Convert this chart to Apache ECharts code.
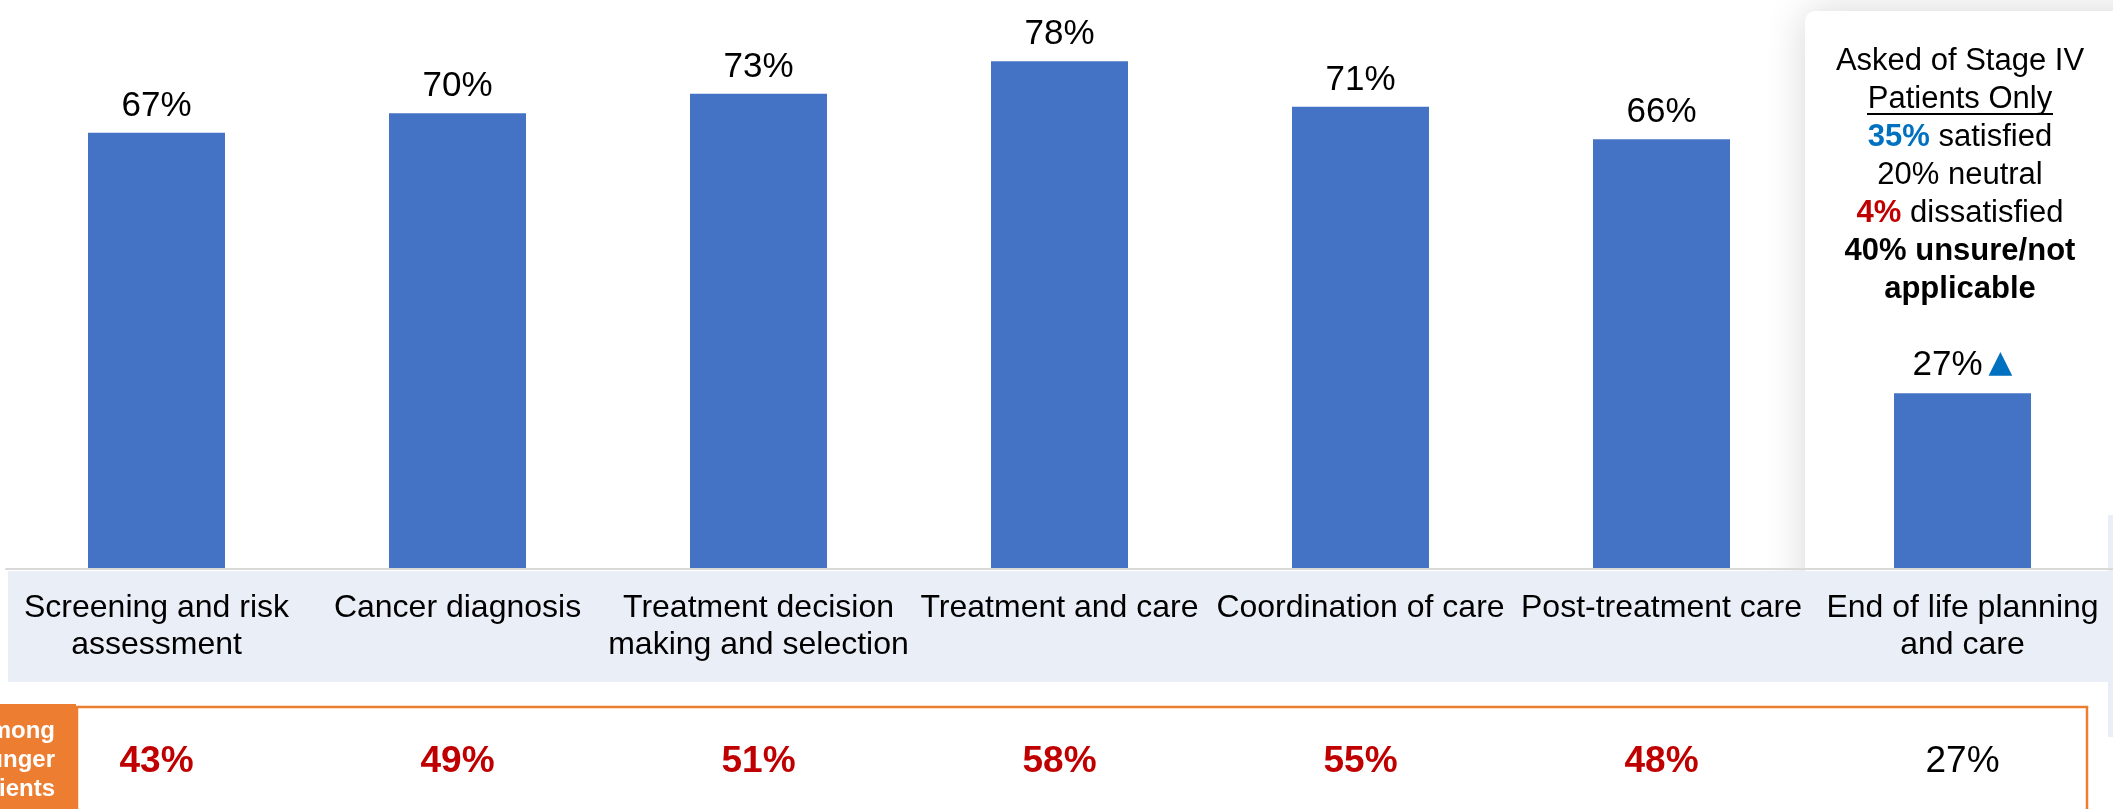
<!DOCTYPE html>
<html>
<head>
<meta charset="utf-8">
<title>Satisfaction by stage of care</title>
<script src="https://cdn.jsdelivr.net/npm/echarts@6/dist/echarts.min.js"></script>
<style>
  html, body { margin: 0; padding: 0; background: #ffffff; }
  #chart { width: 2113px; height: 809px; }
</style>
</head>
<body>
<div id="chart"></div>
<script>
// Stages of the care journey (axis categories)
const categories = [
  'Screening and risk\nassessment',
  'Cancer diagnosis',
  'Treatment decision\nmaking and selection',
  'Treatment and care',
  'Coordination of care',
  'Post-treatment care',
  'End of life planning\nand care'
];

// Share satisfied, all patients (%)
const allPatients = [67, 70, 73, 78, 71, 66, 27];

// Share satisfied, younger patients (%)
const youngerPatients = [43, 49, 51, 58, 55, 48, 27];

// Stage IV breakdown for end of life planning and care
const stageIvLines = [
  'Asked of Stage IV',
  'Patients Only',
  '{blue|35%} satisfied',
  '20% neutral',
  '{red|4%} dissatisfied',
  '{bold|40% unsure/not}',
  '{bold|applicable}'
];

const FONT = '"Liberation Sans", Arial, sans-serif';
const BLUE_BAR = '#4472C4';
const ORANGE = '#ED7D31';
const DARK_RED = '#C00000';
const ACCENT_BLUE = '#0070C0';
const BAND = '#EAEEF7';

const chart = echarts.init(document.getElementById('chart'), null, { renderer: 'canvas' });

const barData = allPatients.map((v, i) => {
  if (i === allPatients.length - 1) {
    return {
      value: v,
      label: {
        formatter: '{v|{c}%}{t|▲}',
        rich: {
          v: { fontSize: 35, fontFamily: FONT, color: '#000', lineHeight: 38 },
          t: { fontSize: 31, fontFamily: '"DejaVu Sans", sans-serif', color: ACCENT_BLUE, padding: [0, 0, 2, 6], lineHeight: 38 }
        }
      }
    };
  }
  return v;
});

const option = {
  backgroundColor: '#ffffff',
  animation: false,
  grid: { left: 6, width: 2118, top: 0, height: 569, containLabel: false },
  xAxis: [
    {
      type: 'category',
      data: categories,
      z: 10,
      axisLine: { show: true, lineStyle: { color: '#D9D9D9', width: 2 } },
      axisTick: { show: false },
      axisLabel: {
        interval: 0,
        margin: 21,
        color: '#000',
        fontSize: 32,
        lineHeight: 37,
        fontFamily: FONT
      }
    },
    {
      type: 'category',
      data: youngerPatients,
      position: 'bottom',
      z: 10,
      axisLine: { show: false },
      axisTick: { show: false },
      axisLabel: {
        interval: 0,
        margin: 174,
        formatter: (value, index) =>
          index === youngerPatients.length - 1 ? '{plain|' + value + '%}' : '{hi|' + value + '%}',
        rich: {
          hi: { fontSize: 37, fontWeight: 'bold', color: DARK_RED, fontFamily: FONT, lineHeight: 37 },
          plain: { fontSize: 37, color: '#000', fontFamily: FONT, lineHeight: 37 }
        }
      }
    }
  ],
  // 0 sits on the axis line; the plot area spans 87.4 points of the percentage scale
  yAxis: { type: 'value', min: 0, max: 87.4, show: false },
  series: [
    {
      type: 'bar',
      xAxisIndex: 0,
      z: 5,
      data: barData,
      barWidth: 137,
      itemStyle: { color: BLUE_BAR },
      label: {
        show: true,
        position: 'top',
        distance: 9,
        formatter: '{c}%',
        color: '#000',
        fontSize: 35,
        fontFamily: FONT
      }
    }
  ],
  graphic: [
    // white card behind the end-of-life column
    {
      type: 'rect', z: 0,
      shape: { x: 1805, y: 11, width: 360, height: 600, r: 10 },
      style: { fill: '#ffffff', shadowBlur: 40, shadowColor: 'rgba(0,0,0,0.16)' }
    },
    // category label band
    {
      type: 'rect', z: 1,
      shape: { x: 8, y: 571, width: 2100, height: 111 },
      style: { fill: BAND }
    },
    {
      type: 'rect', z: 1,
      shape: { x: 2108, y: 515, width: 10, height: 222 },
      style: { fill: BAND }
    },
    // card text
    {
      type: 'text', z: 6,
      style: {
        text: stageIvLines.join('\n'),
        x: 1960, y: 42,
        align: 'center', verticalAlign: 'top',
        fontSize: 31, fontFamily: FONT, fill: '#000', lineHeight: 38,
        rich: {
          blue: { fontSize: 31, fontFamily: FONT, fontWeight: 'bold', fill: ACCENT_BLUE, lineHeight: 38 },
          red: { fontSize: 31, fontFamily: FONT, fontWeight: 'bold', fill: DARK_RED, lineHeight: 38 },
          bold: { fontSize: 31, fontFamily: FONT, fontWeight: 'bold', fill: '#000', lineHeight: 38 }
        }
      }
    },
    // underline for "Patients Only"
    {
      type: 'line', z: 6,
      shape: { x1: 1867, y1: 114, x2: 2053, y2: 114 },
      style: { stroke: '#000', lineWidth: 2 }
    },
    // younger-patients row frame
    {
      type: 'rect', z: 2,
      shape: { x: 77, y: 707, width: 2010, height: 200 },
      style: { fill: 'none', stroke: ORANGE, lineWidth: 2.5 }
    },
    {
      type: 'rect', z: 3,
      shape: { x: 0, y: 704, width: 76, height: 110 },
      style: { fill: ORANGE }
    },
    {
      type: 'text', z: 4,
      style: {
        text: 'Among\nyounger\npatients',
        x: 55, y: 760,
        align: 'right', verticalAlign: 'middle',
        fontSize: 24, fontWeight: 'bold', fontFamily: FONT, fill: '#ffffff', lineHeight: 29
      }
    }
  ]
};

chart.setOption(option);
</script>
</body>
</html>
